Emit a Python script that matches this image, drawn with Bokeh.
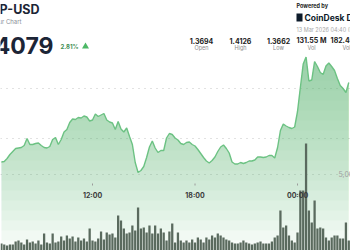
import numpy as np
import pandas as pd
from bokeh.plotting import figure
from bokeh.models import Range1d, Span, Label, LabelSet, ColumnDataSource
from bokeh.core.properties import value
from bokeh.embed import file_html
from bokeh.resources import INLINE

# ---------------- data ----------------
start_time = "2026-03-12 06:40"
interval_min = 10

prices = [
    1.3706, 1.3708, 1.3720, 1.3736, 1.3748, 1.3760, 1.3762, 1.3764, 1.3772, 1.3800,
    1.3776, 1.3776, 1.3780, 1.3782, 1.3772, 1.3764, 1.3762, 1.3768, 1.3796, 1.3804,
    1.3776, 1.3796, 1.3826, 1.3836, 1.3864, 1.3878, 1.3876, 1.3884, 1.3882, 1.3890,
    1.3886, 1.3870, 1.3874, 1.3898, 1.3888, 1.3894, 1.3900, 1.3874, 1.3866, 1.3862,
    1.3836, 1.3868, 1.3838, 1.3826, 1.3842, 1.3808, 1.3776, 1.3704, 1.3664, 1.3672,
    1.3688, 1.3724, 1.3766, 1.3790, 1.3762, 1.3744, 1.3752, 1.3752, 1.3802, 1.3820,
    1.3816, 1.3802, 1.3794, 1.3780, 1.3776, 1.3784, 1.3786, 1.3776, 1.3770, 1.3756,
    1.3740, 1.3724, 1.3710, 1.3702, 1.3712, 1.3726, 1.3748, 1.3766, 1.3774, 1.3760,
    1.3742, 1.3706, 1.3698, 1.3698, 1.3704, 1.3700, 1.3704, 1.3710, 1.3710, 1.3714,
    1.3726, 1.3726, 1.3724, 1.3726, 1.3732, 1.3732, 1.3722, 1.3764, 1.3832, 1.3858,
    1.3850, 1.3844, 1.3840, 1.3846, 1.3908, 1.4004, 1.4098, 1.4126, 1.4030, 1.4034,
    1.4108, 1.4088, 1.4064, 1.4056, 1.4090, 1.4102, 1.4088, 1.4072, 1.4040, 1.4012,
    1.4000, 1.3984, 1.4024,
]

volumes_m = [
    0.46, 0.39, 0.33, 0.39, 0.39, 0.59, 0.66, 0.53, 0.39, 0.72,
    0.53, 0.59, 0.46, 0.66, 0.39, 1.12, 0.53, 0.46, 1.12, 0.53,
    0.59, 0.92, 0.66, 0.99, 0.79, 0.92, 0.59, 0.86, 0.66, 0.79,
    0.59, 1.45, 0.66, 0.59, 0.79, 1.25, 0.72, 1.18, 1.05, 1.12,
    0.86, 2.30, 1.97, 1.45, 1.12, 1.18, 1.64, 1.32, 2.83, 1.45,
    1.51, 1.18, 1.64, 1.12, 1.64, 1.12, 1.45, 1.18, 0.66, 1.25,
    1.78, 0.53, 1.18, 0.66, 0.53, 0.66, 0.53, 0.72, 0.53, 0.86,
    0.72, 0.53, 0.86, 0.72, 0.99, 0.86, 1.12, 0.99, 0.86, 0.72,
    0.66, 0.53, 0.46, 0.46, 0.53, 0.66, 0.53, 0.46, 0.39, 0.46,
    0.53, 0.59, 0.46, 0.46, 0.46, 0.59, 0.86, 0.99, 2.63, 1.51,
    1.64, 0.99, 0.66, 0.53, 1.18, 3.95, 3.95, 7.04, 2.63, 1.84,
    3.29, 1.45, 1.51, 1.45, 0.86, 0.66, 0.86, 0.99, 0.99, 0.79,
    0.79, 1.84, 0.66,
]

tick_times = ["2026-03-12 12:00", "2026-03-12 18:00", "2026-03-13 00:00"]
tick_labels = ["12:00", "18:00", "00:00"]
price_grid = [1.38, 1.40]
vol_grid = [5.0]
vol_grid_labels = ["5,000,000"]

symbol = "XRP-USD"
subtitle = "24 Hour Chart"
last_price = "1.4079"
change_pct = "2.81%"
stat_values = ["1.3694", "1.4126", "1.3662", "131.55 M", "182.46 M"]
stat_names = ["Open", "High", "Low", "Vol", "Vol"]
timestamp = "13 Mar 2026 04:40 (UTC)"

FONT = "Inter"

# ---------------- figure ----------------
times = pd.date_range(start_time, periods=len(prices), freq=f"{interval_min}min")
vol_times = pd.date_range(start_time, periods=len(volumes_m), freq=f"{interval_min}min")

W, H = 350, 250
p = figure(width=W, height=H, output_backend="svg", toolbar_location=None,
           x_axis_type="datetime",
           x_range=Range1d(pd.Timestamp("2026-03-12 06:36:50"), pd.Timestamp("2026-03-13 03:06:05")),
           y_range=Range1d(1.3352, 1.4352),
           min_border=0, min_border_left=0, min_border_right=0,
           min_border_top=0, min_border_bottom=0)
p.axis.visible = False
p.grid.visible = False
p.outline_line_color = None
p.background_fill_color = "white"
p.border_fill_color = "white"
p.extra_y_ranges = {"vol": Range1d(0, 16.447), "px": Range1d(0, H)}
p.extra_x_ranges = {"pxx": Range1d(0, W)}

GREEN = "#56bd6f"
pr = np.array(prices)
# gradient-like area fill under the price line
levels = np.linspace(1.3352, 1.4352, 26)[:-1]
for lv in levels:
    p.varea(x=times, y1=np.full(len(pr), lv), y2=np.maximum(pr, lv),
            fill_color=GREEN, fill_alpha=0.042)

# dotted gridlines
for g in price_grid:
    p.add_layout(Span(location=g, dimension="width", line_color="#c4c4c4",
                      line_dash="1 5", line_width=1, level="underlay"))
for g in vol_grid:
    p.add_layout(Span(location=g, dimension="width", line_color="#c4c4c4",
                      line_dash="1 5", line_width=1, y_range_name="vol", level="underlay"))

# volume bars
p.vbar(x=vol_times, top=volumes_m, bottom=0, width=interval_min * 60 * 1000 * 0.8,
       y_range_name="vol", fill_color="#5a6a5e", line_color=None)

# price line
p.line(times, prices, line_color="#6cc283", line_width=1.4)

# volume grid label
for g, gl in zip(vol_grid, vol_grid_labels):
    p.add_layout(Label(x=338, y=g, x_range_name="pxx", y_range_name="vol", text=gl,
                       text_font=FONT, text_font_size="7px", text_color="#a0a0a0",
                       text_baseline="middle", text_align="left"))

# time ticks
tsrc = ColumnDataSource(dict(x=pd.to_datetime(tick_times), text=tick_labels))
p.segment(x0="x", x1="x", y0=65, y1=67, source=tsrc, y_range_name="px",
          line_color="#9a9a9a", line_width=1)
p.add_layout(LabelSet(x="x", y=55, text="text", source=tsrc, y_range_name="px",
                      text_font=value(FONT), text_font_size="7px", text_font_style="bold",
                      text_color="#3a3a3a", text_align="center", text_baseline="middle"))

def lab(x, y, text, size, color, style="normal", align="left"):
    p.add_layout(Label(x=x, y=H - y, x_range_name="pxx", y_range_name="px", text=text,
                       text_font=FONT, text_font_size=size, text_color=color,
                       text_font_style=style, text_align=align, text_baseline="middle"))

# header left
lab(39, 9, symbol, "12.5px", "#1c2536", "bold", "right")
lab(21, 21, subtitle, "6px", "#8a8f98", "normal", "right")
lab(53, 45, last_price, "23px", "#1c2536", "bold", "right")
lab(60, 46, change_pct, "6px", "#3f8f55", "bold", "left")
p.scatter(x=[85], y=[H - 46], x_range_name="pxx", y_range_name="px", marker="triangle",
          size=7, fill_color="#4cb866", line_color=None)

# header right
lab(296, 5, "Powered by", "5.5px", "#222222", "bold", "left")
p.quad(left=[296], right=[302], bottom=[H - 21], top=[H - 13], x_range_name="pxx",
       y_range_name="px", fill_color="#0d1b2a", line_color=None)
lab(304, 17, "CoinDesk Data", "8.5px", "#0d1b2a", "bold", "left")
lab(296, 29, timestamp, "5.5px", "#a8a8a8", "normal", "left")
stat_x = [201, 240, 278, 311, 346]
for sx, sv, sn in zip(stat_x, stat_values, stat_names):
    lab(sx, 40, sv, "7px", "#222222", "bold", "center")
    lab(sx, 47, sn, "5.5px", "#8a8a8a", "normal", "center")

open("out.html", "w").write(file_html(p, INLINE))
